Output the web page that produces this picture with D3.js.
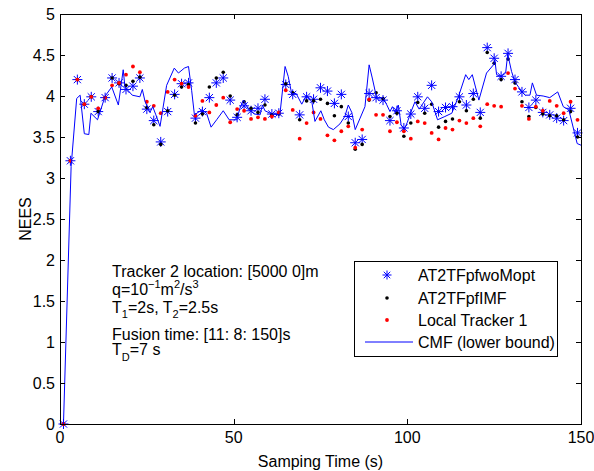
<!DOCTYPE html>
<meta charset="utf-8">
<style>
body { margin: 0; background: #fff; }
text { font-family: "Liberation Sans", Arial, sans-serif; font-size: 16px; fill: #000; }
</style>
<svg width="594" height="471"></svg>
<script src="https://d3js.org/d3.v7.min.js"></script>
<script>

// sample times of tracker 1 (odd seconds)
var times = [1,3,5,7,9,11,13,15,17,19,21,23,25,27,29,31,33,35,37,39,41,43,45,47,49,
  51,53,55,57,59,61,63,65,67,69,71,73,75,77,79,81,83,85,87,89,91,93,95,97,99,
  101,103,105,107,109,111,113,115,117,119,121,123,125,127,129,131,133,135,137,139,141,143,145,147,149];

var woMopt = [0,3.21,4.20,3.90,3.99,3.81,3.98,4.22,4.16,4.08,4.12,4.22,3.84,3.70,3.44,3.81,4.02,4.15,4.16,3.73,
  3.81,3.98,4.16,4.22,3.95,3.74,3.88,3.82,3.85,3.96,3.78,3.79,4.14,4.02,3.77,3.99,3.96,4.10,4.06,3.91,
  4.02,3.75,3.43,3.47,4.03,3.98,3.95,3.70,3.82,3.61,3.78,3.99,3.85,4.13,3.81,3.86,3.87,3.99,3.89,4.03,
  3.80,4.59,4.46,4.24,4.52,4.20,4.05,3.86,3.95,3.80,3.77,3.73,3.70,3.85,3.55];

var pfIMF = [0,3.21,4.20,3.90,3.99,3.81,3.98,4.22,4.15,4.13,4.18,4.23,3.86,3.65,3.41,3.82,4.01,4.11,4.14,3.67,
  3.78,4.11,4.22,4.29,4.00,3.77,3.93,3.85,3.80,3.89,3.77,3.78,4.15,4.04,3.71,3.94,3.94,3.96,3.91,3.76,
  3.87,3.67,3.35,3.41,3.95,4.04,3.97,3.75,3.79,3.51,3.67,3.92,3.79,3.90,3.62,3.69,3.72,3.93,3.82,3.96,
  3.73,4.53,4.40,4.20,4.45,4.16,3.93,3.75,3.86,3.78,3.76,3.76,3.71,3.81,3.50];

var local1 = [0,3.21,4.20,3.90,3.99,3.85,3.98,4.13,4.16,4.26,4.36,4.29,3.93,3.88,3.79,4.05,4.20,4.15,4.11,3.76,
  3.94,3.80,3.89,3.98,3.68,3.84,3.82,3.72,3.74,3.72,3.75,3.80,4.07,3.83,3.48,3.67,3.80,3.72,3.52,3.46,
  3.57,3.63,3.37,3.59,3.96,3.77,3.77,3.57,3.68,3.57,3.48,3.69,3.67,3.55,3.47,3.61,3.59,3.70,3.67,3.73,
  3.63,3.90,3.88,3.87,4.28,4.09,3.88,3.72,3.87,3.82,3.94,3.88,3.79,3.93,3.71];

// CMF (lower bound) line: time, NEES
var cmfT = [1,3.2,4.8,5.8,7,8.3,8.9,10.8,13,14.9,16.8,18.2,18.7,20.8,23,23.7,24.5,25.9,26.7,27.6,28.8,30.7,32.9,34.1,35.8,
  37,37.9,38.7,40.8,42.2,43.5,45.1,47,48.7,50.9,51.8,52.8,54.4,56.1,57.6,58.3,59,61,63.3,64.8,65.7,66.7,68,69.6,71,
  72.5,73.4,75.1,76.1,77.3,78.7,80.6,82,83,84,85,86.4,87.8,89,89.9,91.2,93,94,95,95.7,96.5,97.4,98.2,99.1,100,
  101,102.2,103.4,105.8,107,108.7,110.8,112.8,114.7,116.8,117.7,118.7,120.6,122.8,124.8,125.2,125.7,127,128.3,128.9,
  130,131,132.7,133.9,135.3,136,137.2,139.1,141,143.3,144.9,146.5,148.9,150];
var cmfV = [0,3.14,3.97,4.01,3.54,3.53,3.79,3.71,4.00,4.11,3.89,4.32,4.11,4.01,3.99,4.08,3.93,3.80,3.87,3.77,3.63,4.13,4.34,4.28,4.34,
  4.36,4.07,3.77,3.83,3.79,3.62,3.71,3.82,3.71,3.71,3.85,3.95,3.83,3.78,3.77,3.89,3.82,3.78,3.77,4.36,4.24,4.03,4.03,3.90,4.01,
  3.93,3.69,3.82,3.71,3.62,3.59,3.66,3.75,3.89,3.80,3.59,3.73,3.87,4.38,4.22,3.97,3.98,3.90,3.81,3.87,3.80,3.89,3.65,3.59,3.68,
  3.80,3.93,3.84,3.99,3.93,3.71,3.75,3.79,3.99,4.26,4.20,4.26,3.95,4.28,4.38,4.44,4.26,4.24,4.28,4.51,
  4.30,4.17,4.07,4.01,4.01,4.16,4.01,4.00,3.98,4.05,3.87,3.83,3.42,3.40];

var xTicks = [0, 50, 100, 150];
var yTicks = [0,0.5,1,1.5,2,2.5,3,3.5,4,4.5,5];
var legendNames = ["AT2TFpfwoMopt", "AT2TFpfIMF", "Local Tracker 1", "CMF (lower bound)"];

var svg = d3.select("svg");
var mLeft = 60, mRight = 581, mTop = 14, mBottom = 424;

var x = d3.scaleLinear().domain([0, 150]).range([mLeft, mRight]);
var y = d3.scaleLinear().domain([0, 5]).range([mBottom, mTop]);

// star marker path (MATLAB '*')
function starPath(r) {
  var d = r * 0.72;
  return "M" + (-r) + ",0L" + r + ",0M0," + (-r) + "L0," + r +
    "M" + (-d) + "," + (-d) + "L" + d + "," + d + "M" + (-d) + "," + d + "L" + d + "," + (-d);
}

var plot = svg.append("g");

// stars
plot.append("g").selectAll("path")
  .data(times)
  .enter().append("path")
    .attr("transform", (d, i) => `translate(${x(d)},${y(woMopt[i])})`)
    .attr("d", starPath(5))
    .attr("stroke", "#0000ff")
    .attr("stroke-width", 1)
    .attr("fill", "none");

// black dots
plot.append("g").selectAll("circle")
  .data(times)
  .enter().append("circle")
    .attr("cx", d => x(d))
    .attr("cy", (d, i) => y(pfIMF[i]))
    .attr("r", 1.8)
    .attr("fill", "#000");

// red dots
plot.append("g").selectAll("circle")
  .data(times)
  .enter().append("circle")
    .attr("cx", d => x(d))
    .attr("cy", (d, i) => y(local1[i]))
    .attr("r", 1.9)
    .attr("fill", "#ff0000");

// CMF line
var line = d3.line()
  .x(d => x(d[0]))
  .y(d => y(d[1]));

plot.append("path")
  .datum(cmfT.map((t, i) => [t, cmfV[i]]))
  .attr("d", line)
  .attr("fill", "none")
  .attr("stroke", "#0000ff")
  .attr("stroke-width", 1);

// axes box with inward ticks
var ax = svg.append("g");
ax.append("rect")
  .attr("x", mLeft + 0.5).attr("y", mTop + 0.5)
  .attr("width", mRight - mLeft).attr("height", mBottom - mTop)
  .attr("fill", "none").attr("stroke", "#000").attr("stroke-width", 1);

var tickLen = 5;
yTicks.forEach(function(v) {
  var yy = Math.round(y(v)) + 0.5;
  ax.append("line").attr("x1", mLeft).attr("x2", mLeft + tickLen).attr("y1", yy).attr("y2", yy).attr("stroke", "#000");
  ax.append("line").attr("x1", mRight - tickLen).attr("x2", mRight).attr("y1", yy).attr("y2", yy).attr("stroke", "#000");
  ax.append("text")
    .attr("x", mLeft - 5).attr("y", y(v) + 6)
    .attr("text-anchor", "end")
    .text(v);
});
xTicks.forEach(function(v) {
  var xx = Math.round(x(v)) + 0.5;
  ax.append("line").attr("x1", xx).attr("x2", xx).attr("y1", mBottom).attr("y2", mBottom - tickLen).attr("stroke", "#000");
  ax.append("line").attr("x1", xx).attr("x2", xx).attr("y1", mTop).attr("y2", mTop + tickLen).attr("stroke", "#000");
  ax.append("text")
    .attr("x", x(v)).attr("y", 443)
    .attr("text-anchor", "middle")
    .text(v);
});

svg.append("text")
  .attr("x", (mLeft + mRight) / 2).attr("y", 467)
  .attr("text-anchor", "middle")
  .text("Samping Time (s)");

svg.append("text")
  .attr("transform", "translate(31,219) rotate(-90)")
  .attr("text-anchor", "middle")
  .text("NEES");

// annotation
var note = svg.append("g");
note.append("text").attr("x", 112).attr("y", 277).text("Tracker 2 location: [5000 0]m");
var q = note.append("text").attr("x", 112).attr("y", 295);
q.append("tspan").text("q=10");
q.append("tspan").attr("dy", -7).style("font-size", "11px").text("\u22121");
q.append("tspan").attr("dy", 7).text("m");
q.append("tspan").attr("dy", -7).style("font-size", "11px").text("2");
q.append("tspan").attr("dy", 7).text("/s");
q.append("tspan").attr("dy", -7).style("font-size", "11px").text("3");
var tt = note.append("text").attr("x", 112).attr("y", 313);
tt.append("tspan").text("T");
tt.append("tspan").attr("dy", 5).style("font-size", "11px").text("1");
tt.append("tspan").attr("dy", -5).text("=2s, T");
tt.append("tspan").attr("dy", 5).style("font-size", "11px").text("2");
tt.append("tspan").attr("dy", -5).text("=2.5s");
note.append("text").attr("x", 112).attr("y", 340).text("Fusion time: [11: 8: 150]s");
var td = note.append("text").attr("x", 112).attr("y", 355);
td.append("tspan").text("T");
td.append("tspan").attr("dy", 6).style("font-size", "11px").text("D");
td.append("tspan").attr("dy", -6).text("=7 s");

// legend
var lg = svg.append("g");
lg.append("rect")
  .attr("x", 354.5).attr("y", 261.5).attr("width", 203).attr("height", 95)
  .attr("fill", "#fff").attr("stroke", "#000");
var rowY = [275, 298, 320, 342];
lg.append("path").attr("transform", `translate(387,${rowY[0]})`).attr("d", starPath(4.5))
  .attr("stroke", "#0000ff").attr("fill", "none");
lg.append("circle").attr("cx", 387).attr("cy", rowY[1]).attr("r", 1.8).attr("fill", "#000");
lg.append("circle").attr("cx", 387).attr("cy", rowY[2]).attr("r", 1.9).attr("fill", "#ff0000");
lg.append("line").attr("x1", 365).attr("x2", 413).attr("y1", rowY[3]).attr("y2", rowY[3])
  .attr("stroke", "#0000ff");
legendNames.forEach(function(n, i) {
  lg.append("text").attr("x", 418).attr("y", rowY[i] + 6).text(n);
});

</script>
